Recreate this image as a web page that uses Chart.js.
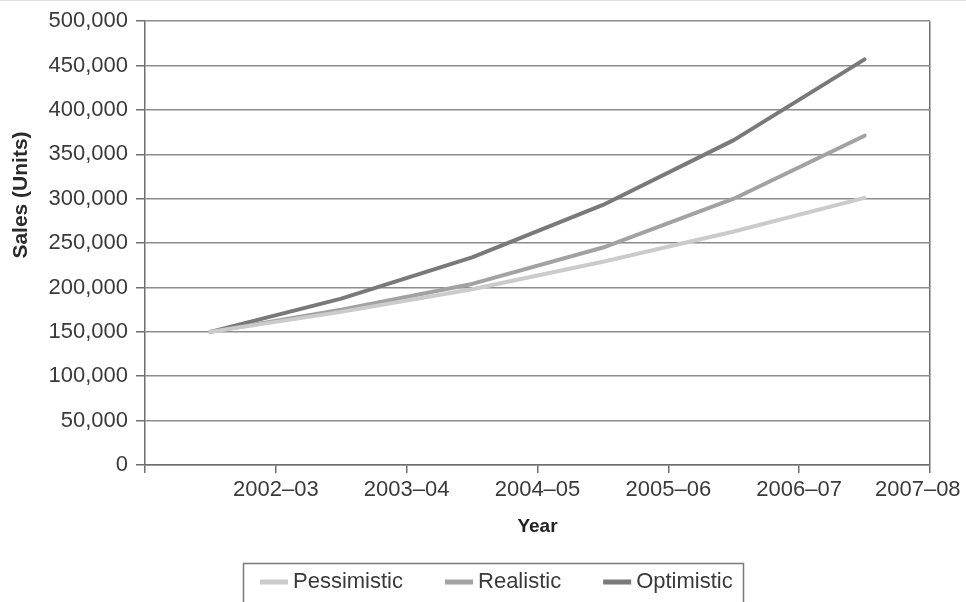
<!DOCTYPE html>
<html>
<head>
<meta charset="utf-8">
<script src="https://cdn.jsdelivr.net/npm/chart.js@4.4.1/dist/chart.umd.min.js"></script>
<style>
  html, body { margin: 0; padding: 0; background: #ffffff; }
  #wrap { width: 966px; height: 602px; position: relative; }
  canvas { display: block; }
</style>
</head>
<body>
<div id="wrap"><canvas id="c" width="966" height="602"></canvas></div>
<script>
// Sales forecast (units) under three scenarios
const yearLabels = ['2002–03', '2003–04', '2004–05', '2005–06', '2006–07', '2007–08'];
const seriesNames = ['Pessimistic', 'Realistic', 'Optimistic'];
const pessimistic = [150000, 172500, 198000, 229000, 263000, 301000];
const realistic   = [150000, 175000, 204000, 245000, 300000, 371000];
const optimistic  = [150000, 187500, 234000, 293000, 366000, 457000];
const yMax = 500000;
const yStep = 50000;

const seriesColors = ['#cbcbcb', '#a2a2a2', '#797979'];
const axisColor = '#6e6e6e';
const gridColor = '#8c8c8c';
const textColor = '#3a3a3a';
const fontFamily = '"Liberation Sans", Arial, Helvetica, sans-serif';

// each year's point sits in the middle of its interval on the year axis
const toPoints = values => values.map((v, i) => ({ x: i + 0.5, y: v }));

const datasets = [pessimistic, realistic, optimistic].map((values, k) => ({
  label: seriesNames[k],
  data: toPoints(values),
  borderColor: seriesColors[k],
  backgroundColor: seriesColors[k],
  borderWidth: 4,
  pointRadius: 0,
  tension: 0,
  borderCapStyle: 'round',
  borderJoinStyle: 'round',
  fill: false
}));

// axis title on the left and boxed legend underneath
const extras = {
  id: 'extras',
  afterDraw(chart) {
    const ctx = chart.ctx;
    ctx.save();

    // faint rule along the top edge
    ctx.strokeStyle = '#e2e2e2';
    ctx.lineWidth = 1;
    ctx.beginPath();
    ctx.moveTo(0, 0.5);
    ctx.lineTo(chart.width, 0.5);
    ctx.stroke();

    // y axis title
    ctx.save();
    ctx.translate(21, 195);
    ctx.rotate(-Math.PI / 2);
    ctx.font = 'bold 21px ' + fontFamily;
    ctx.fillStyle = '#2a2a2a';
    ctx.textAlign = 'center';
    ctx.textBaseline = 'middle';
    ctx.fillText('Sales (Units)', 0, 0);
    ctx.restore();

    // legend frame
    ctx.strokeStyle = '#7a7a7a';
    ctx.lineWidth = 1.5;
    ctx.strokeRect(243.5, 563.5, 500, 60);

    // legend entries
    ctx.font = '22px ' + fontFamily;
    ctx.textBaseline = 'middle';
    ctx.textAlign = 'left';
    let x = 260;
    const y = 582;
    chart.data.datasets.forEach(ds => {
      ctx.strokeStyle = ds.borderColor;
      ctx.lineWidth = 5;
      ctx.lineCap = 'butt';
      ctx.beginPath();
      ctx.moveTo(x, y);
      ctx.lineTo(x + 28, y);
      ctx.stroke();
      ctx.fillStyle = textColor;
      ctx.fillText(ds.label, x + 33, y);
      x += 33 + ctx.measureText(ds.label).width + 42;
    });
    ctx.restore();
  }
};

new Chart(document.getElementById('c'), {
  type: 'line',
  data: { datasets },
  plugins: [extras],
  options: {
    responsive: false,
    animation: false,
    devicePixelRatio: 1,
    layout: { padding: { left: 0, right: 36, top: 20, bottom: 60 } },
    plugins: {
      legend: { display: false },
      tooltip: { enabled: false }
    },
    scales: {
      x: {
        type: 'linear',
        min: 0,
        max: yearLabels.length,
        afterBuildTicks: scale => {
          scale.ticks = [];
          for (let v = 0; v <= yearLabels.length; v++) scale.ticks.push({ value: v });
        },
        ticks: {
          autoSkip: false,
          maxRotation: 0,
          padding: 4,
          color: textColor,
          font: { family: fontFamily, size: 22 },
          callback: value => {
            const i = Math.round(value) - 1;
            if (i < 0) return '';
            const t = yearLabels[i];
            // keep the last label inside the canvas edge
            return i === yearLabels.length - 1 ? t + '\u00a0\u00a0\u00a0\u00a0' : t;
          }
        },
        grid: {
          drawOnChartArea: true,
          color: c => (c.tick && c.tick.value === yearLabels.length) ? axisColor : 'rgba(0,0,0,0)',
          tickColor: axisColor,
          tickLength: 8,
          lineWidth: 1.5
        },
        border: { color: axisColor, width: 1.5 },
        title: {
          display: true,
          text: 'Year',
          color: '#222222',
          font: { family: fontFamily, size: 19, weight: 'bold' },
          padding: { top: 4, bottom: 4 }
        },
        afterFit: scale => {
          scale.height = 77;
          scale.paddingLeft = 0;
          scale.paddingRight = 0;
        }
      },
      y: {
        min: 0,
        max: yMax,
        ticks: {
          stepSize: yStep,
          padding: 8,
          color: textColor,
          font: { family: fontFamily, size: 22 },
          callback: v => v.toLocaleString('en-US')
        },
        grid: {
          color: gridColor,
          tickColor: axisColor,
          tickLength: 9,
          lineWidth: 1.5
        },
        border: { color: axisColor, width: 1.5 },
        afterFit: scale => { scale.width = 145; }
      }
    }
  }
});
</script>
</body>
</html>
